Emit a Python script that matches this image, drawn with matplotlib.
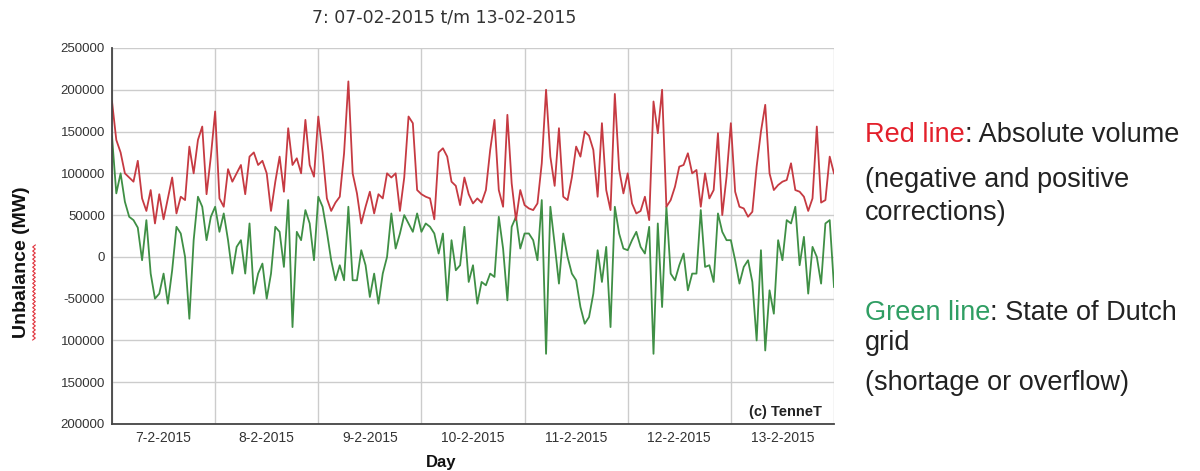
import matplotlib.pyplot as plt
from matplotlib.lines import Line2D
import numpy as np

plt.rcParams['font.family'] = ['Liberation Sans', 'DejaVu Sans']

# hourly values, 07-02-2015 00:00 .. 14-02-2015 00:00, in 1000 MW
hours = np.arange(169)
absolute_volume = [
    186, 140, 125, 100, 95, 90, 115, 70, 55, 80, 40, 75, 45, 70, 95, 52, 72, 68, 132, 100, 140, 156, 75, 120,
    174, 70, 60, 105, 90, 100, 110, 75, 120, 125, 110, 115, 100, 55, 90, 120, 78, 154, 110, 118, 100, 164, 110, 96,
    168, 125, 70, 55, 65, 72, 124, 210, 100, 76, 40, 60, 78, 52, 75, 70, 100, 95, 100, 55, 95, 168, 160, 80,
    75, 72, 70, 45, 125, 130, 120, 90, 85, 62, 95, 75, 64, 70, 65, 80, 128, 164, 80, 60, 170, 88, 44, 80,
    62, 58, 56, 64, 112, 200, 120, 85, 154, 72, 68, 95, 132, 120, 150, 145, 128, 72, 160, 80, 56, 195, 105, 76,
    100, 64, 52, 55, 72, 44, 186, 148, 200, 60, 68, 84, 108, 110, 124, 100, 104, 60, 100, 70, 80, 148, 50, 96,
    160, 78, 60, 58, 48, 54, 108, 150, 182, 100, 80, 86, 90, 92, 112, 80, 78, 72, 55, 70, 156, 65, 68, 120, 100,
]
grid_state = [
    144, 76, 100, 66, 48, 44, 35, -4, 44, -20, -50, -44, -20, -56, -16, 36, 28, 0, -74, 20, 72, 60, 20, 48,
    60, 30, 52, 20, -20, 12, 20, -20, 40, -44, -20, -8, -50, -20, 36, 30, -12, 68, -84, 30, 20, 56, 40, -4,
    72, 60, 30, -4, -28, -10, -28, 60, -28, -28, 8, -10, -48, -20, -56, -20, 0, 52, 10, 28, 50, 40, 30, 52,
    30, 40, 36, 28, 4, 28, -52, 20, -16, -10, 36, -30, -10, -56, -30, -34, -20, -24, 48, 10, -52, 36, 48, 10,
    28, 28, 20, -4, 68, -116, 60, 15, -32, 28, 0, -20, -28, -60, -80, -72, -44, 8, -30, 12, -84, 60, 28, 10,
    8, 20, 30, 12, 4, 36, -116, 40, -60, 60, -20, -28, -10, 4, -40, -20, -20, 56, -12, -10, -30, 52, 30, 20,
    20, -4, -32, -12, -4, -30, -100, 8, -112, -40, -68, 20, -4, 44, 40, 60, -10, 24, -44, 12, 0, -32, 40, 44, -36,
]
days = ['7-2-2015', '8-2-2015', '9-2-2015', '10-2-2015', '11-2-2015', '12-2-2015', '13-2-2015']
y_ticks = [250000, 200000, 150000, 100000, 50000, 0, -50000, -100000, -150000, -200000]
y_tick_labels = ['250000', '200000', '150000', '100000', '50000', '0', '-50000', '100000', '150000', '200000']

fig = plt.figure(figsize=(12, 4.71), dpi=100)
ax = fig.add_axes([112 / 1200, 1 - 424 / 471, 722 / 1200, 376 / 471])

ax.plot(hours, np.array(grid_state) * 1000, color='#3f8f45', lw=1.3)
ax.plot(hours, np.array(absolute_volume) * 1000, color='#c63a42', lw=1.3)

ax.set_xlim(0, 168)
ax.set_ylim(-200000, 250000)
ax.set_yticks(y_ticks)
ax.set_yticklabels(y_tick_labels)
ax.set_xticks(np.arange(0, 169, 24))
ax.set_xticklabels([])
ax.set_xticks(np.arange(12, 168, 24), minor=True)
ax.set_xticklabels(days, minor=True)
ax.tick_params(which='both', length=0, colors='#333333')
ax.tick_params(axis='y', labelsize=9.5, pad=5)
ax.tick_params(axis='x', which='minor', labelsize=10, pad=5)
ax.grid(True, which='major', color='#cccccc', lw=1)
ax.set_axisbelow(True)
for s in ['top', 'right']:
    ax.spines[s].set_visible(False)
for s in ['left', 'bottom']:
    ax.spines[s].set_color('#444444')
    ax.spines[s].set_linewidth(1.3)

ax.text(0.983, 0.032, '(c) TenneT', transform=ax.transAxes, ha='right', va='center',
        fontsize=10.5, fontweight='bold', color='#222222')

fig.text(0.37, 0.962, '7: 07-02-2015 t/m 13-02-2015', ha='center', va='center',
         fontsize=12.5, color='#333333', family='DejaVu Sans')
fig.text(22 / 1200, 1 - 262 / 471, 'Unbalance (MW)', rotation=90, ha='center', va='center',
         fontsize=14, fontweight='bold', color='#111111')
fig.text(441 / 1200, 1 - 462 / 471, 'Day', ha='center', va='center',
         fontsize=12, fontweight='bold', color='#111111')

# spell-check squiggle under "Unbalance"
sq_y = np.linspace(245, 340, 48)
sq_x = 34 + 1.3 * (-1) ** np.arange(48)
fig.add_artist(Line2D(sq_x / 1200, 1 - sq_y / 471, color='#e0303a', lw=0.8))

# notes on the right
fs = 19.5
x0 = 865 / 1200
t1 = fig.text(x0, 1 - 135 / 471, 'Red line', color='#e3202b', fontsize=fs, va='center')
ax.annotate(': Absolute volume', xy=(1, 0.5), xycoords=t1, va='center', ha='left',
            fontsize=fs, color='#222222', annotation_clip=False)
fig.text(x0, 1 - 180 / 471, '(negative and positive', color='#222222', fontsize=fs, va='center')
fig.text(x0, 1 - 213 / 471, 'corrections)', color='#222222', fontsize=fs, va='center')
t2 = fig.text(x0, 1 - 313 / 471, 'Green line', color='#2f9e63', fontsize=fs, va='center')
ax.annotate(': State of Dutch', xy=(1, 0.5), xycoords=t2, va='center', ha='left',
            fontsize=fs, color='#222222', annotation_clip=False)
fig.text(x0, 1 - 343 / 471, 'grid', color='#222222', fontsize=fs, va='center')
fig.text(x0, 1 - 383 / 471, '(shortage or overflow)', color='#222222', fontsize=fs, va='center')

fig.savefig('out.png', dpi=100)
